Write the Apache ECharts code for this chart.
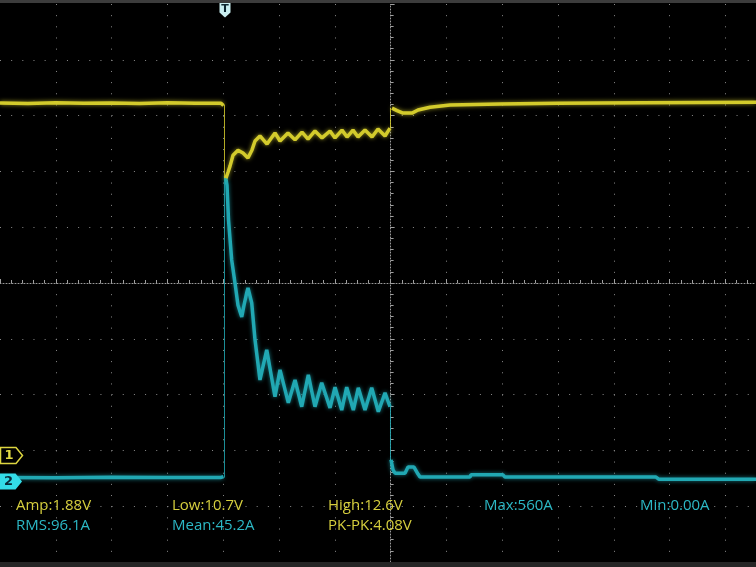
<!DOCTYPE html>
<html><head><meta charset="utf-8">
<script src="https://cdn.jsdelivr.net/npm/echarts@6/dist/echarts.min.js"></script>
<style>html,body{margin:0;padding:0;background:#000;overflow:hidden}#c{width:756px;height:567px}</style>
</head><body><div id="c"></div>
<script>
// Time in screen divisions (0 = screen centre). CH1 in volts (2 V/div), CH2 in amps (100 A/div).
// null = break in the trace (fast edges are drawn separately as faint lines).
const ch1Time = [-7, -6.5, -6, -5.5, -5, -4.5, -4, -3.5, -3.039, -2.995,
  -2.97,
  -2.950, -2.914, -2.878, -2.824, -2.735, -2.645, -2.556, -2.484, -2.430, -2.341, -2.215,
  -2.072, -1.982, -1.839, -1.713, -1.588, -1.480, -1.355, -1.229, -1.086, -0.996, -0.871,
  -0.781, -0.674, -0.584, -0.459, -0.333, -0.226, -0.100, -0.011,
  0.0,
  0.025, 0.115, 0.222, 0.384, 0.491, 0.706, 1.065, 1.961, 3.0, 4.5, 6.548];
const ch1Volts = [12.64, 12.62, 12.65, 12.63, 12.64, 12.62, 12.65, 12.63, 12.63, 12.55,
  null,
  9.95, 10.16, 10.38, 10.77, 10.95, 10.85, 10.67, 10.96, 11.28, 11.46, 11.17,
  11.57, 11.28, 11.57, 11.32, 11.60, 11.35, 11.64, 11.39, 11.64, 11.39, 11.67,
  11.42, 11.67, 11.42, 11.67, 11.42, 11.71, 11.46, 11.74,
  null,
  12.46, 12.37, 12.28, 12.28, 12.39, 12.49, 12.57, 12.61, 12.63, 12.65, 12.67];
const ch1EdgeTime = [-2.977, -2.977, -2.96, -0.002, -0.002];
const ch1EdgeVolts = [12.58, 9.95, null, 11.74, 12.46];

const ch2Time = [-7, -6, -5, -4, -3.039, -2.995,
  -2.97,
  -2.959, -2.932, -2.905, -2.848, -2.789, -2.735, -2.668, -2.627, -2.579, -2.556, -2.489,
  -2.430, -2.341, -2.220, -2.072, -1.982, -1.833, -1.713, -1.593, -1.475, -1.355, -1.235,
  -1.086, -0.996, -0.876, -0.787, -0.668, -0.579, -0.459, -0.339, -0.220, -0.100, -0.011,
  0.0,
  0.007, 0.043, 0.079, 0.258, 0.312, 0.419, 0.491, 0.527, 1.423, 1.441, 2.014, 2.050,
  4.756, 4.810, 6.548];
const ch2Amps = [6.3, 6.0, 6.5, 6.2, 6.3, 8,
  null,
  546, 530, 468, 396, 355, 315, 294, 315, 337, 346, 319,
  253, 181, 235, 151, 199, 140, 181, 133, 190, 133, 176,
  131, 168, 127, 168, 127, 167, 127, 167, 124, 158, 133,
  null,
  38, 20, 14, 14, 25, 25, 12.5, 7, 7, 11, 11, 7,
  7, 3, 3];
const ch2EdgeTime = [-2.977, -2.977, -2.96, -0.002, -0.002];
const ch2EdgeAmps = [6, 546, null, 133, 38];

const measureRow1 = ['Amp:1.88V', 'Low:10.7V', 'High:12.6V', 'Max:560A', 'Min:0.00A'];
const measureRow1Ch = [1, 1, 1, 2, 2];
const measureRow2 = ['RMS:96.1A', 'Mean:45.2A', 'PK-PK:4.08V'];
const measureRow2Ch = [2, 2, 1];

const YEL = '#d3cb2c', CYN = '#21a8b3';
const TXT_Y = '#d6cf3e', TXT_C = '#2cb8c5';

function pairs(t, v) { return t.map((x, i) => [x, v[i] === null ? '-' : v[i]]); }

const chart = echarts.init(document.getElementById('c'), null, {renderer: 'canvas'});
const gridDot = {color: '#8a8a8a', width: 1, type: [1, 10.16]};
const centreLine = {color: '#9a9a9a', width: 1, type: [1, 2]};

const texts = [];
const colX = [16, 172, 328, 484, 640];
measureRow1.forEach((s, i) => texts.push({type: 'text', x: colX[i], y: 506,
  style: {text: s, fill: measureRow1Ch[i] === 1 ? TXT_Y : TXT_C, font: '15px "Open Sans"', verticalAlign: 'middle'}, z: 100}));
measureRow2.forEach((s, i) => texts.push({type: 'text', x: colX[i], y: 526,
  style: {text: s, fill: measureRow2Ch[i] === 1 ? TXT_Y : TXT_C, font: '15px "Open Sans"', verticalAlign: 'middle'}, z: 100}));

const lineBase = {type: 'line', showSymbol: false, symbol: 'none', silent: true, connectNulls: false, animation: false};

chart.setOption({
  backgroundColor: '#000',
  animation: false,
  grid: {left: 0, right: 0, top: 4, bottom: 5, containLabel: false},
  xAxis: {type: 'value', min: -7, max: 6.548, interval: 1,
    axisLabel: {show: false},
    axisLine: {show: true, onZero: true, lineStyle: centreLine},
    axisTick: {show: true, inside: true, length: 4, lineStyle: {color: '#a0a0a0'}},
    minorTick: {show: true, splitNumber: 5, length: 3, lineStyle: {color: '#a0a0a0'}},
    splitLine: {show: true, showMinLine: false, showMaxLine: false, lineStyle: gridDot}},
  yAxis: [
    {type: 'value', min: -5, max: 5, interval: 1,
      axisLabel: {show: false},
      axisLine: {show: true, onZero: true, lineStyle: centreLine},
      axisTick: {show: true, inside: true, length: 4, lineStyle: {color: '#a0a0a0'}},
      minorTick: {show: true, splitNumber: 5, length: 3, lineStyle: {color: '#a0a0a0'}},
      splitLine: {show: true, showMinLine: false, showMaxLine: false, lineStyle: gridDot}},
    {type: 'value', min: -3.81, max: 16.19, show: false, splitLine: {show: false}},
    {type: 'value', min: -145.2, max: 854.8, show: false, splitLine: {show: false}}
  ],
  series: [
    Object.assign({}, lineBase, {name: 'CH2 edge', yAxisIndex: 2, z: 2, data: pairs(ch2EdgeTime, ch2EdgeAmps),
      lineStyle: {color: CYN, width: 1, opacity: 0.85}}),
    Object.assign({}, lineBase, {name: 'CH2', yAxisIndex: 2, z: 3, data: pairs(ch2Time, ch2Amps),
      lineStyle: {color: CYN, width: 3.5, shadowBlur: 4, shadowColor: 'rgba(33,168,179,0.7)'}}),
    Object.assign({}, lineBase, {name: 'CH1 edge', yAxisIndex: 1, z: 4, data: pairs(ch1EdgeTime, ch1EdgeVolts),
      lineStyle: {color: YEL, width: 1, opacity: 0.85}}),
    Object.assign({}, lineBase, {name: 'CH1', yAxisIndex: 1, z: 5, data: pairs(ch1Time, ch1Volts),
      lineStyle: {color: YEL, width: 3.5, shadowBlur: 4, shadowColor: 'rgba(211,203,44,0.7)'}})
  ],
  graphic: [
    {type: 'rect', shape: {x: 0, y: 0, width: 756, height: 3}, style: {fill: '#3c3c3c'}, z: 90},
    {type: 'rect', shape: {x: 0, y: 562, width: 756, height: 5}, style: {fill: '#262626'}, z: 90},
    {type: 'polygon', shape: {points: [[219.5, 3], [230.5, 3], [230.5, 12.5], [225, 17.5], [219.5, 12.5]]},
      style: {fill: '#c9eef0'}, z: 95},
    {type: 'text', x: 225, y: 9.5, style: {text: 'T', fill: '#0c2630', font: 'bold 11px "DejaVu Sans"', align: 'center', verticalAlign: 'middle'}, z: 96},
    {type: 'polygon', shape: {points: [[0.5, 447.5], [16, 447.5], [22.5, 455.5], [16, 463.5], [0.5, 463.5]]},
      style: {fill: '#000', stroke: '#ddd540', lineWidth: 1.5}, z: 95},
    {type: 'text', x: 9, y: 456, style: {text: '1', fill: '#e2da44', font: 'bold 13px "DejaVu Sans"', align: 'center', verticalAlign: 'middle'}, z: 96},
    {type: 'polygon', shape: {points: [[0, 473.5], [15.5, 473.5], [22, 481.5], [15.5, 489.5], [0, 489.5]]},
      style: {fill: '#33dde8'}, z: 95},
    {type: 'text', x: 8.5, y: 482, style: {text: '2', fill: '#082a38', font: 'bold 13px "DejaVu Sans"', align: 'center', verticalAlign: 'middle'}, z: 96}
  ].concat(texts)
});
</script></body></html>
